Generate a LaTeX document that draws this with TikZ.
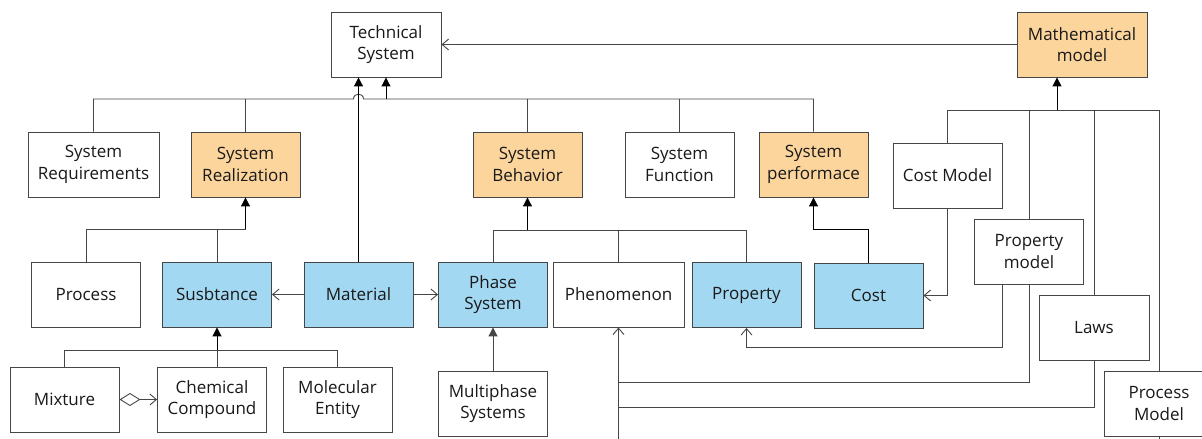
\documentclass[tikz,border=0pt]{standalone}
\usepackage{fontspec}
\setmainfont{Open Sans}
\usetikzlibrary{arrows.meta}
\definecolor{orng}{RGB}{252,213,157}
\definecolor{blu}{RGB}{163,216,242}
\definecolor{lc}{RGB}{70,70,70}
\begin{document}
\begin{tikzpicture}[x=1pt,y=-1pt, font=\fontsize{17}{21.5}\selectfont,
 box/.style={draw=lc, line width=0.9pt, minimum width=109pt, minimum height=65pt, inner sep=0pt, align=center, text=black!90},
 wbox/.style={box, fill=white},
 obox/.style={box, fill=orng},
 bbox/.style={box, fill=blu},
 ln/.style={draw=lc, line width=0.9pt},
 tri/.style={draw=black, line width=1pt, -{Triangle[length=9pt,width=9pt]}},
 opn/.style={ln, -{Straight Barb[length=6.5pt,width=11pt]}},
]
\useasboundingbox (0,0) rectangle (1202,439);
\clip (0,0) rectangle (1202,439);

\node[wbox, minimum width=110pt] (ts) at (386,44.5) {Technical\\System};
\node[obox, minimum width=130pt] (mm) at (1082,44.5) {Mathematical\\model};
\node[wbox, minimum width=131pt] (sreq) at (93.5,164.5) {System\\Requirements};
\node[obox] (sreal) at (245.5,164.5) {System\\Realization};
\node[obox] (sbeh) at (527.5,164.5) {System\\Behavior};
\node[wbox] (sfun) at (679.5,164.5) {System\\Function};
\node[obox] (sperf) at (813.5,164.5) {System\\performace};
\node[wbox] (cm) at (947.5,175.5) {Cost Model};
\node[wbox] (propm) at (1029,251.5) {Property\\model};
\node[wbox, minimum width=110pt] (laws) at (1094,327.5) {Laws};
\node[wbox] (pm) at (1159,403.5) {Process\\Model};
\node[wbox] (proc) at (86,294.5) {Process};
\node[bbox] (subs) at (217,294.5) {Susbtance};
\node[bbox] (mat) at (358.5,294.5) {Material};
\node[bbox] (phase) at (493,294.5) {Phase\\System};
\node[wbox, minimum width=131pt] (phen) at (618.5,294.5) {Phenomenon};
\node[bbox] (prop) at (746.5,295) {Property};
\node[bbox] (cost) at (868.5,295.5) {Cost};
\node[wbox] (mix) at (64.5,399.5) {Mixture};
\node[wbox] (cc) at (212,399.5) {Chemical\\Compound};
\node[wbox] (me) at (337.5,399.5) {Molecular\\Entity};
\node[wbox] (mps) at (493,403.5) {Multiphase\\Systems};

% tree to Technical System
\coordinate (bt) at (386,99);
\draw[ln] (sreq.north) -- (sreq.north |- bt) -- ([xshift=-5pt]mat.north |- bt) .. controls +(0,-6.5) and +(0,-6.5) .. ([xshift=5pt]mat.north |- bt) -- (sperf.north |- bt) -- (sperf.north);
\foreach \n in {sreal,sbeh,sfun} \draw[ln] (\n.north) -- (\n.north |- bt);
\draw[tri] (bt) -- (ts.south);
\draw[tri] (mat.north) -- (mat.north |- ts.south);
\draw[opn] (mm.west) -- (ts.east);

% tree to Mathematical model
\coordinate (bm) at (1057,110);
\draw[ln] (cm.north) -- (cm.north |- bm) -- (pm.north |- bm) -- (pm.north);
\draw[ln] (propm.north |- bm) -- (propm.north);
\draw[ln] (laws.north |- bm) -- (laws.north);
\draw[tri] (bm) -- (bm |- mm.south);

% models to entities
\draw[opn] (cm.south) |- (cost.east);
\draw[opn] ([xshift=-27pt]propm.south) -- ++(0,63) -| (prop.south);
\draw[ln] (propm.south) |- (phen.south |- 0,382);
\draw[ln] (laws.south) |- (phen.south |- 0,407);
\draw[opn] (pm.south) -- ++(0,40) -| (phen.south);

% cost to performance
\draw[tri] (cost.north) -- ++(0,-33) -| (sperf.south);

% tree to System Behavior
\coordinate (bb) at (527.5,230);
\draw[ln] (phase.north) -- (phase.north |- bb) -- (prop.north |- bb) -- (prop.north);
\draw[ln] (phen.north) -- (phen.north |- bb);
\draw[tri] (bb) -- (sbeh.south);

% tree to System Realization
\coordinate (br) at (245.5,229);
\draw[ln] (proc.north) -- (proc.north |- br) -- (br);
\draw[ln] (subs.north) -- (subs.north |- br);
\draw[tri] (br) -- (sreal.south);

\draw[opn] (mat.west) -- (subs.east);
\draw[opn] (mat.east) -- (phase.west);

% tree to Substance
\coordinate (bs) at (217,350);
\draw[ln] (mix.north) -- (mix.north |- bs) -- (me.north |- bs) -- (me.north);
\draw[ln] (subs.south |- cc.north) -- (bs);
\draw[tri] (bs) -- (subs.south);

\draw[ln, {Diamond[open,length=21pt,width=13pt]}-{Straight Barb[length=6.5pt,width=11pt]}] (mix.east) -- (cc.west);

\draw[tri, draw=lc] (mps.north) -- (phase.south);
\end{tikzpicture}
\end{document}
